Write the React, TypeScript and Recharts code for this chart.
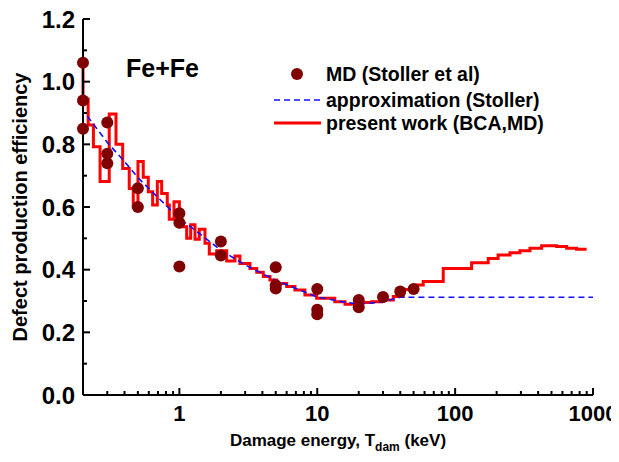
import React from 'react';
import { ComposedChart, Line, Scatter, XAxis, YAxis, Label } from 'recharts';

// MD points (Stoller et al)
const mdEnergy = [0.2, 0.2, 0.2, 0.3, 0.3, 0.3, 0.5, 0.5, 1, 1, 1, 2, 2, 5, 5, 5, 10, 10, 10, 20, 20, 30, 40, 50];
const mdEfficiency = [1.06, 0.94, 0.85, 0.87, 0.77, 0.74, 0.66, 0.6, 0.58, 0.55, 0.41, 0.49, 0.445, 0.408, 0.35, 0.34, 0.338, 0.272, 0.258, 0.303, 0.28, 0.313, 0.33, 0.338];

// approximation (Stoller), dashed
const approxEnergy = [0.215, 0.3, 0.4, 0.5, 0.7, 1, 1.5, 2, 3, 5, 7, 10, 15, 20, 30, 40, 100, 1000];
const approxEfficiency = [0.89, 0.806, 0.745, 0.694, 0.63, 0.564, 0.505, 0.462, 0.415, 0.366, 0.34, 0.313, 0.298, 0.29, 0.297, 0.312, 0.312, 0.312];

// present work (BCA,MD), histogram steps: start energy of each step and its value
const stepEnergy = [0.2, 0.2, 0.218, 0.238, 0.266, 0.31, 0.347, 0.388, 0.433, 0.463, 0.501, 0.547, 0.595, 0.64, 0.692, 0.744, 0.817, 0.845, 0.914, 1.0, 1.13, 1.208, 1.298, 1.394, 1.534, 1.648, 1.865, 2.204, 2.53, 2.75, 3.25, 3.64, 4.06, 4.54, 5.08, 6.0, 6.89, 8.14, 9.9, 13.4, 15.9, 19.8, 24.8, 29.3, 35.6, 42, 52.6, 58.7, 82, 131.7, 173.8, 205, 250, 295, 349, 424, 545, 644, 760, 899];
const stepEfficiency = [1.05, 0.945, 0.862, 0.792, 0.681, 0.897, 0.8, 0.723, 0.659, 0.6, 0.745, 0.695, 0.649, 0.606, 0.681, 0.643, 0.606, 0.561, 0.617, 0.537, 0.5, 0.543, 0.497, 0.529, 0.484, 0.45, 0.46, 0.428, 0.444, 0.42, 0.404, 0.392, 0.378, 0.367, 0.356, 0.346, 0.335, 0.319, 0.309, 0.298, 0.29, 0.295, 0.298, 0.303, 0.314, 0.337, 0.351, 0.362, 0.404, 0.422, 0.436, 0.447, 0.454, 0.46, 0.468, 0.476, 0.474, 0.468, 0.465, 0.465];

const xMajor = [1, 10, 100, 1000];
const xTicks = [0.3, 0.4, 0.5, 0.6, 0.7, 0.8, 0.9, 1, 2, 3, 4, 5, 6, 7, 8, 9, 10, 20, 30, 40, 50, 60, 70, 80, 90, 100, 200, 300, 400, 500, 600, 700, 800, 900, 1000];
const yTicks = [0, 0.1, 0.2, 0.3, 0.4, 0.5, 0.6, 0.7, 0.8, 0.9, 1.0, 1.1, 1.2];
const yLabels = ['0.0', '0.2', '0.4', '0.6', '0.8', '1.0', '1.2'];

const mdData = mdEnergy.map((e, i) => ({ e, v: mdEfficiency[i] }));
const approxData = approxEnergy.map((e, i) => ({ e, v: approxEfficiency[i] }));
const stepData = stepEnergy.map((e, i) => ({ e, v: stepEfficiency[i] }));

const FONT = '"Liberation Sans", Arial, sans-serif';

const isMajorY = (v: number) => Math.round(v * 10) % 2 === 0;

const BottomTick = (props: any) => {
  const { x, y, payload } = props;
  const major = xMajor.includes(payload.value);
  return (
    <g>
      <line x1={x} y1={y} x2={x} y2={y - (major ? 7 : 4)} stroke="#000" strokeWidth={2} />
      {major && (
        <text x={x} y={y + 18} textAnchor="middle" dominantBaseline="central"
          fontFamily={FONT} fontWeight="bold" fontSize={22} fill="#000">
          {payload.value}
        </text>
      )}
    </g>
  );
};

const TopTick = (props: any) => {
  const { x, y, payload } = props;
  const major = xMajor.includes(payload.value);
  return <line x1={x} y1={y} x2={x} y2={y + (major ? 7 : 4)} stroke="#000" strokeWidth={2} />;
};

const LeftTick = (props: any) => {
  const { x, y, payload } = props;
  const major = isMajorY(payload.value);
  return (
    <g>
      <line x1={x} y1={y} x2={x + (major ? 7 : 4)} y2={y} stroke="#000" strokeWidth={2} />
      {major && (
        <text x={x - 8} y={y} textAnchor="end" dominantBaseline="central"
          fontFamily={FONT} fontWeight="bold" fontSize={24} fill="#000">
          {yLabels[Math.round(payload.value * 5)]}
        </text>
      )}
    </g>
  );
};

const RightTick = (props: any) => {
  const { x, y, payload } = props;
  const major = isMajorY(payload.value);
  return <line x1={x} y1={y} x2={x - (major ? 7 : 4)} y2={y} stroke="#000" strokeWidth={2} />;
};

const XTitle = (props: any) => {
  const vb = props.viewBox || { x: 83, y: 395, width: 510, height: 67 };
  return (
    <text x={vb.x + vb.width / 2} y={vb.y + 51} textAnchor="middle"
      fontFamily={FONT} fontWeight="bold" fontSize={17} fill="#000">
      Damage energy, T<tspan fontSize={12} dy={5}>dam</tspan><tspan dy={-5}> (keV)</tspan>
    </text>
  );
};

const YTitle = (props: any) => {
  const vb = props.viewBox || { x: 0, y: 19, width: 83, height: 376 };
  const cx = 20;
  const cy = vb.y + vb.height / 2;
  return (
    <text x={cx} y={cy} transform={`rotate(-90 ${cx} ${cy})`} textAnchor="middle" dominantBaseline="central"
      fontFamily={FONT} fontWeight="bold" fontSize={20} fill="#000">
      Defect production efficiency
    </text>
  );
};

const axisLine = { stroke: '#000', strokeWidth: 2 };

export default function App() {
  return (
    <div style={{ position: 'relative', width: 619, height: 462, margin: '-8px 0 0 -8px' }}>
      <ComposedChart width={619} height={462} data={stepData}
        margin={{ top: 19, right: 26, bottom: 0, left: 0 }}>
        <XAxis dataKey="e" type="number" scale="log" domain={[0.2, 1000]} ticks={xTicks} interval={0}
          height={67} axisLine={axisLine} tickLine={false} tickSize={0} tickMargin={0} tick={<BottomTick />}>
          <Label content={<XTitle />} />
        </XAxis>
        <XAxis xAxisId="top" orientation="top" dataKey="e" type="number" scale="log" domain={[0.2, 1000]}
          ticks={xTicks} interval={0} height={0} axisLine={axisLine} tickLine={false} tickSize={0}
          tickMargin={0} tick={<TopTick />} />
        <YAxis type="number" domain={[0, 1.2]} ticks={yTicks} interval={0} width={83}
          axisLine={axisLine} tickLine={false} tickSize={0} tickMargin={0} tick={<LeftTick />}>
          <Label content={<YTitle />} />
        </YAxis>
        <YAxis yAxisId="right" orientation="right" type="number" domain={[0, 1.2]} ticks={yTicks} interval={0}
          width={0} axisLine={axisLine} tickLine={false} tickSize={0} tickMargin={0} tick={<RightTick />} />
        <Line data={stepData} dataKey="v" type="stepAfter" stroke="#ff0000" strokeWidth={3}
          dot={false} isAnimationActive={false} />
        <Line data={approxData} dataKey="v" type="linear" stroke="#1010ff" strokeWidth={1.6}
          strokeDasharray="6 4" dot={false} isAnimationActive={false} />
        <Scatter data={mdData} dataKey="v" fill="#800000" isAnimationActive={false}
          shape={(p: any) => <circle cx={p.cx} cy={p.cy} r={6} fill="#800000" />} />
      </ComposedChart>
      <svg width={619} height={462} style={{ position: 'absolute', left: 0, top: 0, pointerEvents: 'none' }}>
        <text x={126} y={68} dominantBaseline="central" fontFamily={FONT} fontWeight="bold" fontSize={25} fill="#000">
          Fe+Fe
        </text>
        <circle cx={297} cy={74} r={6} fill="#800000" />
        <text x={326} y={74} dominantBaseline="central" fontFamily={FONT} fontWeight="bold" fontSize={19.5} fill="#000">
          MD (Stoller et al)
        </text>
        <line x1={274} y1={100} x2={321} y2={100} stroke="#1010ff" strokeWidth={1.6} strokeDasharray="6 4" />
        <text x={326} y={100} dominantBaseline="central" fontFamily={FONT} fontWeight="bold" fontSize={19.5} fill="#000">
          approximation (Stoller)
        </text>
        <line x1={274} y1={123} x2={321} y2={123} stroke="#ff0000" strokeWidth={3} />
        <text x={326} y={123} dominantBaseline="central" fontFamily={FONT} fontWeight="bold" fontSize={19.5} fill="#000">
          present work (BCA,MD)
        </text>
      </svg>
    </div>
  );
}
